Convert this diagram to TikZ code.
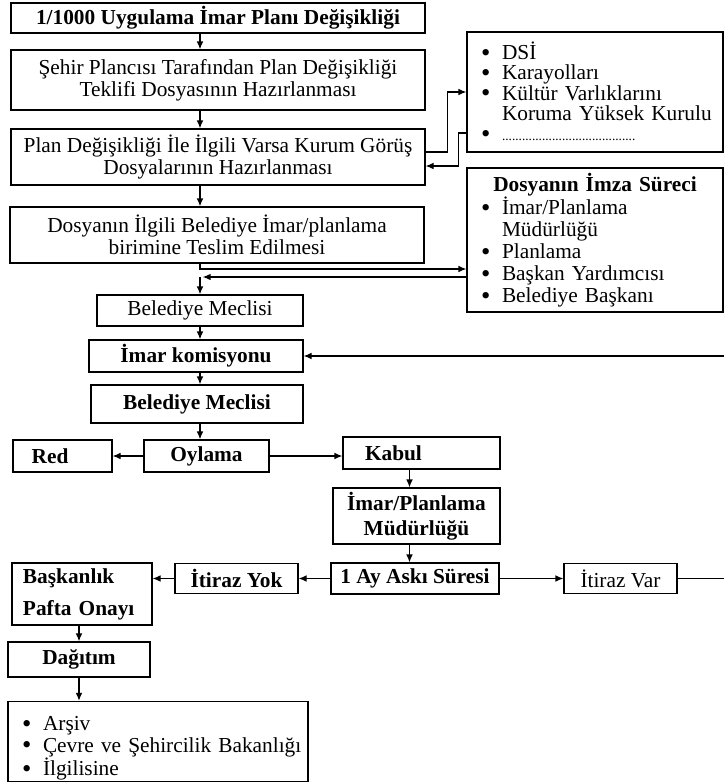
\documentclass[tikz,border=0pt]{standalone}
\usepackage{fontspec}
\setmainfont{Liberation Serif}
\usepackage{graphicx}
\usetikzlibrary{arrows.meta,positioning}
\newcommand{\blt}{\hspace*{10.5pt}\makebox[15.75pt][l]{\raisebox{-.15ex}{\scalebox{1.25}{\textbullet}}}}
\newcommand{\ind}[1]{\hspace*{#1}}

\begin{document}
\fontsize{16}{16.5}\selectfont
\begin{tikzpicture}[x=0.75pt,y=-0.75pt,>={Latex[length=6pt,width=5pt]},line width=.9pt,
		box/.style={draw,inner sep=1pt,align=center},
		bold/.style={font=\bfseries},
		sz/.style 2 args={minimum width=#1*0.75pt,minimum height=#2*0.75pt},
		lbox/.style={draw,align=left,text width=#1,inner xsep=0pt,inner ysep=1pt}]
	\useasboundingbox (0,0) rectangle (724,783);
	\node[box,sz={414}{30},bold] (baslik) at (218,18) {1/1000 Uygulama İmar Planı Değişikliği};
	\node[box,sz={414}{60}] (teklif) at (218,80) {Şehir Plancısı Tarafından Plan Değişikliği\\Teklifi Dosyasının Hazırlanması};
	\node[box,sz={414}{56}] (gorus) at (218,157) {Plan Değişikliği İle İlgili Varsa Kurum Görüş\\Dosyalarının Hazırlanması};
	\node[box,sz={414}{56}] (teslim) at (217,235) {Dosyanın İlgili Belediye İmar/planlama\\birimine Teslim Edilmesi};
	\node[box,sz={206}{31}] (meclis1) at (200,310.5) {Belediye Meclisi};
	\node[box,sz={214}{32},bold] (komisyon) at (196,356) {İmar komisyonu};
	\node[box,sz={212}{38},bold] (meclis2) at (197,404) {Belediye Meclisi};
	\node[box,sz={125}{32},bold] (oylama) at (206.5,456) {Oylama};
	\node[lbox=74.25pt,sz={99}{32},bold] (red) at (62.5,456) {\ind{14pt}Red};
	\node[lbox=117.75pt,sz={157}{32},bold] (kabul) at (421.5,453) {\ind{16.5pt}Kabul};
	\node[box,sz={167}{56},bold] (mudurluk) at (416.5,516) {İmar/Planlama\\[2pt]Müdürlüğü};
	\node[box,sz={168}{31},bold] (aski) at (415,578.5) {1 Ay Askı Süresi};
	\node[box,sz={123}{30},bold] (yok) at (236.5,578.5) {İtiraz Yok};
	\node[box,sz={113}{30}] (var) at (620.5,578.5) {İtiraz Var};
	\node[lbox=105pt,sz={140}{62},bold] (pafta) at (82,594) {\ind{8.25pt}Başkanlık\\[7.5pt]\ind{8.25pt}Pafta Onayı};
	\node[box,sz={142}{35},bold] (dagitim) at (79,659.5) {Dağıtım};
	\node[lbox=225pt,sz={300}{77},font=\fontsize{16}{16}\selectfont] (liste) at (158,741.5)
		{\rule{0pt}{21pt}\blt Arşiv\\\blt Çevre ve Şehircilik Bakanlığı\\\blt İlgilisine};
	\node[lbox=192pt,sz={256}{120},font=\fontsize{16}{15.2}\selectfont] (kurum) at (595,92)
		{\blt DSİ\\\blt Karayolları\\\blt Kültür Varlıklarını\\\ind{26.25pt}Koruma Yüksek Kurulu\\
		\blt{\fontsize{10}{10}\selectfont ........................................}};
	\node[lbox=192pt,sz={256}{144}] (imza) at (595,240)
		{\makebox[192pt]{\bfseries Dosyanın İmza Süreci}\\\blt İmar/Planlama\\\ind{26.25pt}Müdürlüğü\\
		\blt Planlama\\\blt Başkan Yardımcısı\\\blt Belediye Başkanı};

	\coordinate (kurumOut) at ([yshift=-30.75pt]kurum.west);
	\coordinate (imzaOut) at ([yshift=-27.75pt]imza.west);
	\coordinate (donus) at (meclis1.north |- imzaOut);
	\coordinate (sag) at ([xshift=-5.25pt]mudurluk.north);

	\draw[->] (baslik.south -| meclis1) -- (teklif.north -| meclis1);
	\draw[->] (teklif.south -| meclis1) -- (gorus.north -| meclis1);
	\draw[->] (gorus.south -| meclis1) -- (teslim.north -| meclis1);
	\draw[->] ([yshift=3.75pt]gorus.east) -- ++(22,0) |- (kurum.west);
	\draw[->] (kurumOut) -- ++(-8,0) |- ([yshift=-6.75pt]gorus.east);
	\draw[->] (teslim.south -| meclis1) |- ([yshift=-21.75pt]imza.west);
	\draw[->] (imzaOut) -- ([xshift=2pt]donus);
	\draw[->] (donus) -- (meclis1.north);
	\draw[->] (meclis1) -- (meclis1 |- komisyon.north);
	\draw[->] (komisyon.south -| meclis1) -- (meclis2.north -| meclis1);
	\draw[->] (meclis2.south -| meclis1) -- (oylama.north -| meclis1);
	\draw[->] (oylama) -- (red);
	\draw[->] (oylama) -- (oylama -| kabul.west);
	\draw[->] (kabul.south -| sag) -- (sag);
	\draw[->] (mudurluk.south -| sag) -- (aski.north -| sag);
	\draw[->] (aski) -- (yok);
	\draw[->] (yok.west) -- (yok.west -| pafta.east);
	\draw[->] (aski) -- (var);
	\draw[->] (var.east) -- ++(60,0) |- (komisyon.east);
	\draw[->] (pafta.south -| dagitim) -- (dagitim.north);
	\draw[->] (dagitim) -- (dagitim |- liste.north);
\end{tikzpicture}
\end{document}
